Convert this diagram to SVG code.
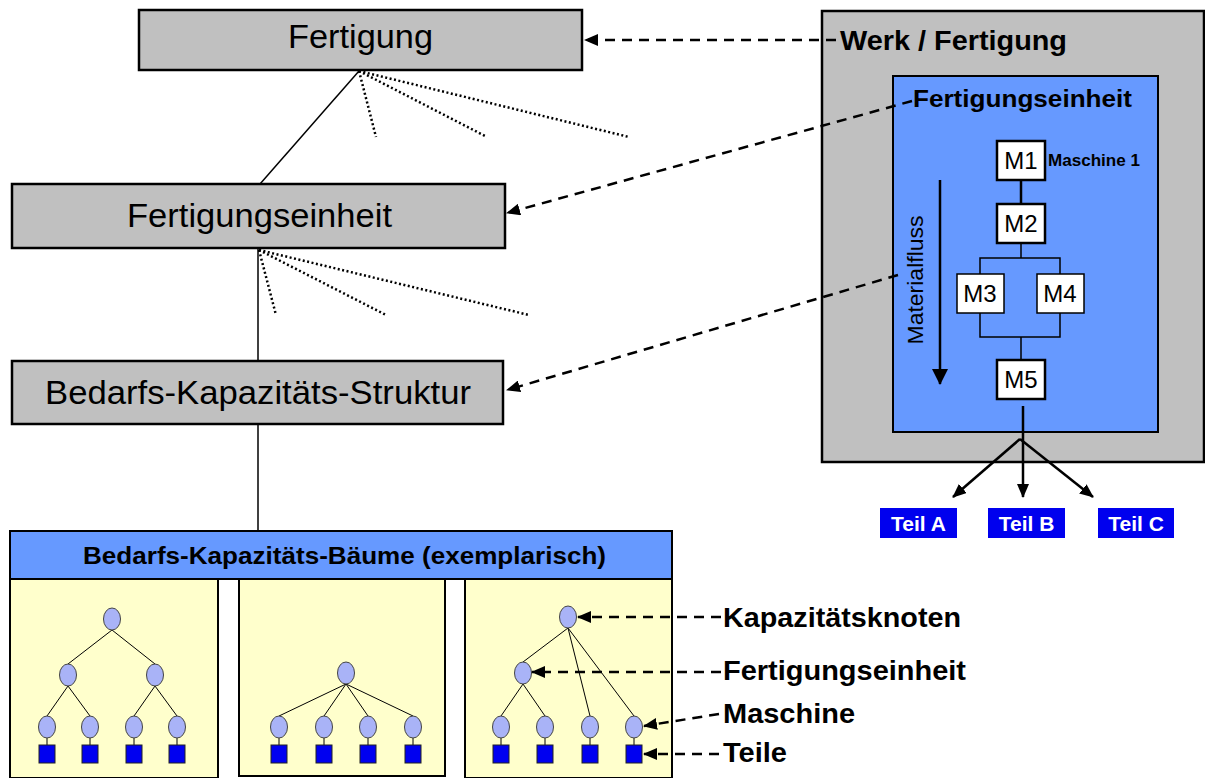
<svg xmlns="http://www.w3.org/2000/svg" width="1205" height="778" viewBox="0 0 1205 778">
<defs>
<style>
.gbox{fill:#C0C0C0;stroke:#000;stroke-width:2.5}
.lbl{font-family:"Liberation Sans",Arial,sans-serif;fill:#000}
.b{font-weight:bold}
.mbox{fill:#fff;stroke:#000;stroke-width:2.5}
.mbox2{fill:#fff;stroke:#000;stroke-width:1.5}
.dash{fill:none;stroke:#000;stroke-width:2.5;stroke-dasharray:10 7}
.dot{fill:none;stroke:#000;stroke-width:2.5;stroke-dasharray:2 2.5}
.ln{fill:none;stroke:#000;stroke-width:1.5}
.ln2{fill:none;stroke:#000;stroke-width:2.5}
.tl{fill:none;stroke:#000;stroke-width:1}
.kn{fill:#A9B3F7;stroke:#444;stroke-width:1}
.tq{fill:#0000F0;stroke:#222;stroke-width:1}
.panel{fill:#FFFFCC;stroke:#000;stroke-width:2}
.teil{fill:#0000EE}
</style>
<marker id="ah" viewBox="0 0 14 12" refX="13" refY="6" markerWidth="14" markerHeight="12" markerUnits="userSpaceOnUse" orient="auto">
<path d="M0,0 L14,6 L0,12 Z" fill="#000"/>
</marker>
<marker id="ahs" viewBox="0 0 16 16" refX="15" refY="8" markerWidth="16" markerHeight="16" markerUnits="userSpaceOnUse" orient="auto">
<path d="M0,0 L16,8 L0,16 Z" fill="#000"/>
</marker>
</defs>
<rect width="1205" height="778" fill="#fff"/>

<g id="n-fertigung">
<rect class="gbox" x="139" y="10" width="443" height="60"/>
<text class="lbl" x="288" y="48" font-size="33" textLength="145" lengthAdjust="spacingAndGlyphs">Fertigung</text>
</g>
<g id="n-fertigungseinheit">
<rect class="gbox" x="12" y="184" width="493" height="64"/>
<text class="lbl" x="127" y="227" font-size="33" textLength="265" lengthAdjust="spacingAndGlyphs">Fertigungseinheit</text>
</g>
<g id="n-bks">
<rect class="gbox" x="12" y="361" width="491" height="63"/>
<text class="lbl" x="45" y="404" font-size="33" textLength="426" lengthAdjust="spacingAndGlyphs">Bedarfs-Kapazitäts-Struktur</text>
</g>

<g id="n-werk">
<rect class="gbox" x="822" y="11" width="382" height="451"/>
<text class="lbl b" x="840" y="50" font-size="27" textLength="227" lengthAdjust="spacingAndGlyphs">Werk / Fertigung</text>
</g>
<g id="n-fe-box">
<rect x="893" y="76" width="265" height="356" fill="#6699FF" stroke="#000" stroke-width="2"/>
<text class="lbl b" x="913" y="107" font-size="24" textLength="219" lengthAdjust="spacingAndGlyphs">Fertigungseinheit</text>
</g>
<g id="n-flow">
<line class="ln2" x1="1021" y1="180" x2="1021" y2="204"/>
<path class="ln" d="M1021,243 V258 M980,274 V258 H1060 V274 M980,313 V337 H1060 V313 M1021,337 V360"/>
<line class="ln2" x1="940" y1="180" x2="940" y2="384" marker-end="url(#ahs)"/>
<text class="lbl" transform="translate(923,280) rotate(-90)" text-anchor="middle" font-size="22" textLength="129" lengthAdjust="spacingAndGlyphs">Materialfluss</text>
</g>
<g id="n-m1">
<rect class="mbox" x="997" y="141" width="48" height="39"/>
<text class="lbl" x="1021" y="169" font-size="24" text-anchor="middle">M1</text>
<text class="lbl b" x="1048" y="166" font-size="16" textLength="92" lengthAdjust="spacingAndGlyphs">Maschine 1</text>
</g>
<g id="n-m2">
<rect class="mbox" x="997" y="204" width="48" height="39"/>
<text class="lbl" x="1021" y="232" font-size="24" text-anchor="middle">M2</text>
</g>
<g id="n-m3">
<rect class="mbox2" x="957" y="274" width="47" height="39"/>
<text class="lbl" x="980" y="302" font-size="24" text-anchor="middle">M3</text>
</g>
<g id="n-m4">
<rect class="mbox2" x="1037" y="274" width="47" height="39"/>
<text class="lbl" x="1060" y="302" font-size="24" text-anchor="middle">M4</text>
</g>
<g id="n-m5">
<rect class="mbox" x="997" y="360" width="48" height="39"/>
<text class="lbl" x="1021" y="388" font-size="24" text-anchor="middle">M5</text>
</g>
<g id="n-out">
<line class="ln2" x1="1023" y1="406" x2="1023" y2="497" marker-end="url(#ah)"/>
<line class="ln2" x1="1020" y1="439" x2="953" y2="497" marker-end="url(#ah)"/>
<line class="ln2" x1="1020" y1="439" x2="1093" y2="497" marker-end="url(#ah)"/>
</g>
<g id="n-teil-a">
<rect class="teil" x="880" y="508" width="77" height="30"/>
<text class="lbl b" x="918.5" y="531" font-size="21" style="fill:#fff" text-anchor="middle">Teil A</text>
</g>
<g id="n-teil-b">
<rect class="teil" x="988" y="508" width="77" height="30"/>
<text class="lbl b" x="1026.5" y="531" font-size="21" style="fill:#fff" text-anchor="middle">Teil B</text>
</g>
<g id="n-teil-c">
<rect class="teil" x="1098" y="508" width="76" height="30"/>
<text class="lbl b" x="1136" y="531" font-size="21" style="fill:#fff" text-anchor="middle">Teil C</text>
</g>

<g id="n-baeume">
<rect x="10" y="531" width="662" height="48" fill="#6699FF" stroke="#000" stroke-width="2"/>
<text class="lbl b" x="83" y="564" font-size="24" textLength="523" lengthAdjust="spacingAndGlyphs">Bedarfs-Kapazitäts-Bäume (exemplarisch)</text>
</g>

<g id="n-tree1">
<rect class="panel" x="10" y="579" width="208" height="199"/>
<path class="tl" d="M112,630 L68,664 M112,630 L155,664 M68,686 L47,716 M68,686 L90,716 M155,686 L134,716 M155,686 L177,716 M47,738 V745 M90,738 V745 M134,738 V745 M177,738 V745"/>
<ellipse class="kn" cx="112" cy="619" rx="8.5" ry="11"/>
<ellipse class="kn" cx="68" cy="675" rx="8.5" ry="11"/>
<ellipse class="kn" cx="155" cy="675" rx="8.5" ry="11"/>
<ellipse class="kn" cx="47" cy="727" rx="8.5" ry="11"/>
<ellipse class="kn" cx="90" cy="727" rx="8.5" ry="11"/>
<ellipse class="kn" cx="134" cy="727" rx="8.5" ry="11"/>
<ellipse class="kn" cx="177" cy="727" rx="8.5" ry="11"/>
<rect class="tq" x="39" y="745" width="16" height="18"/>
<rect class="tq" x="82" y="745" width="16" height="18"/>
<rect class="tq" x="126" y="745" width="16" height="18"/>
<rect class="tq" x="169" y="745" width="16" height="18"/>
</g>

<g id="n-tree2">
<rect class="panel" x="239" y="579" width="206" height="197"/>
<path class="tl" d="M346,684 L279,716 M346,684 L324,716 M346,684 L368,716 M346,684 L413,716 M279,738 V745 M324,738 V745 M368,738 V745 M413,738 V745"/>
<ellipse class="kn" cx="346" cy="673" rx="8.5" ry="11"/>
<ellipse class="kn" cx="279" cy="727" rx="8.5" ry="11"/>
<ellipse class="kn" cx="324" cy="727" rx="8.5" ry="11"/>
<ellipse class="kn" cx="368" cy="727" rx="8.5" ry="11"/>
<ellipse class="kn" cx="413" cy="727" rx="8.5" ry="11"/>
<rect class="tq" x="271" y="745" width="16" height="18"/>
<rect class="tq" x="316" y="745" width="16" height="18"/>
<rect class="tq" x="360" y="745" width="16" height="18"/>
<rect class="tq" x="405" y="745" width="16" height="18"/>
</g>

<g id="n-tree3">
<rect class="panel" x="465" y="579" width="207" height="199"/>
<path class="tl" d="M568,628 L523,662 M568,628 L590,716 M568,628 L634,716 M523,684 L501,716 M523,684 L545,716 M501,738 V745 M545,738 V745 M590,738 V745 M634,738 V745"/>
<ellipse class="kn" cx="568" cy="617" rx="8.5" ry="11"/>
<ellipse class="kn" cx="523" cy="673" rx="8.5" ry="11"/>
<ellipse class="kn" cx="501" cy="727" rx="8.5" ry="11"/>
<ellipse class="kn" cx="545" cy="727" rx="8.5" ry="11"/>
<ellipse class="kn" cx="590" cy="727" rx="8.5" ry="11"/>
<ellipse class="kn" cx="634" cy="727" rx="8.5" ry="11"/>
<rect class="tq" x="493" y="745" width="16" height="18"/>
<rect class="tq" x="537" y="745" width="16" height="18"/>
<rect class="tq" x="582" y="745" width="16" height="18"/>
<rect class="tq" x="626" y="745" width="16" height="18"/>
</g>

<g id="n-legend">
<text class="lbl b" x="723" y="627" font-size="27" textLength="238" lengthAdjust="spacingAndGlyphs">Kapazitätsknoten</text>
<text class="lbl b" x="723" y="680" font-size="27" textLength="243" lengthAdjust="spacingAndGlyphs">Fertigungseinheit</text>
<text class="lbl b" x="723" y="723" font-size="27" textLength="132" lengthAdjust="spacingAndGlyphs">Maschine</text>
<text class="lbl b" x="723" y="762" font-size="27" textLength="64" lengthAdjust="spacingAndGlyphs">Teile</text>
</g>

<g id="connectors">
<line class="ln" x1="359" y1="71" x2="260" y2="184"/>
<line class="dot" x1="359" y1="71" x2="376" y2="137"/>
<line class="dot" x1="359" y1="71" x2="487" y2="137"/>
<line class="dot" x1="359" y1="71" x2="629" y2="137"/>
<line class="ln" x1="258" y1="249" x2="258" y2="361"/>
<line class="dot" x1="259" y1="250" x2="276" y2="315"/>
<line class="dot" x1="259" y1="250" x2="386" y2="315"/>
<line class="dot" x1="259" y1="250" x2="529" y2="315"/>
<line class="ln" x1="258" y1="425" x2="258" y2="530"/>
<line class="dash" x1="836" y1="40" x2="585" y2="40" marker-end="url(#ah)"/>
<line class="dash" x1="912" y1="101" x2="507" y2="213" marker-end="url(#ah)"/>
<line class="dash" x1="898" y1="275" x2="507" y2="390" marker-end="url(#ah)"/>
<line class="dash" x1="721" y1="617" x2="578" y2="617" marker-end="url(#ah)"/>
<line class="dash" x1="721" y1="672" x2="532" y2="672" marker-end="url(#ah)"/>
<line class="dash" x1="719" y1="714" x2="644" y2="726" marker-end="url(#ah)"/>
<line class="dash" x1="719" y1="754" x2="644" y2="754" marker-end="url(#ah)"/>
</g>
</svg>
